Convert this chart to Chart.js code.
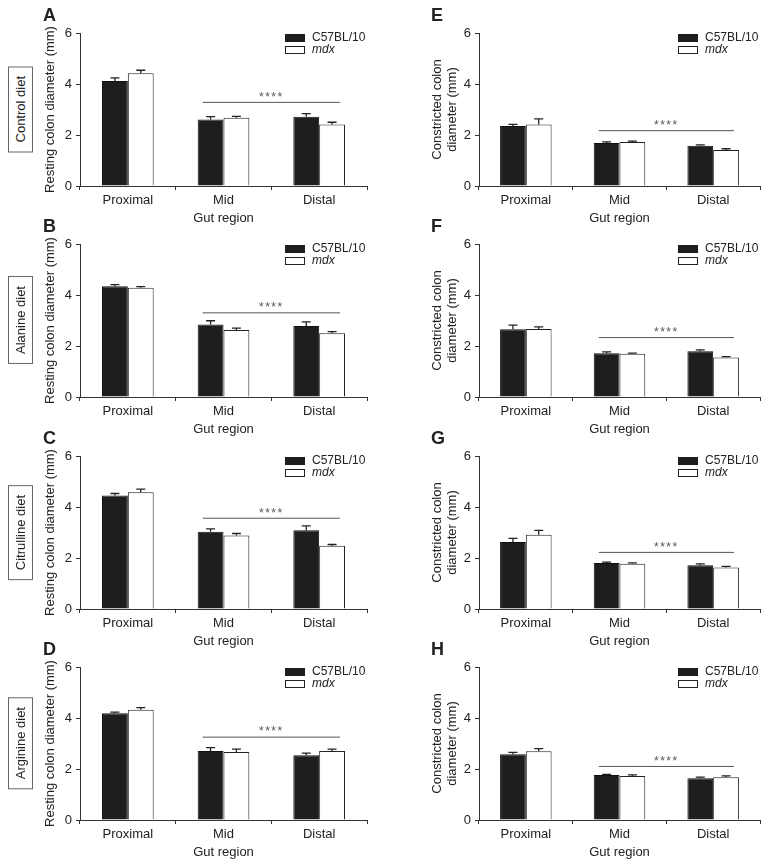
<!DOCTYPE html>
<html>
<head>
<meta charset="utf-8">
<script src="https://cdn.jsdelivr.net/npm/chart.js@4.4.1/dist/chart.umd.min.js"></script>
<style>
  body { margin: 0; background: #fff; }
  #wrap { position: relative; width: 771px; height: 866px; font-family: 'Liberation Sans', Arial, sans-serif; color: #222; }
  canvas { position: absolute; }
  .letter { position: absolute; font-weight: bold; font-size: 18px; line-height: 20px; }
  .diet { position: absolute; left: 8px; width: 23px; border: 1px solid #666; font-size: 13px;
          writing-mode: vertical-rl; transform: rotate(180deg); display: flex; align-items: center;
          justify-content: center; padding: 9px 0; box-sizing: content-box; }
</style>
</head>
<body>
<div id="wrap"></div>
<script>
const regions = ["Proximal", "Mid", "Distal"];
const diets = ["Control diet", "Alanine diet", "Citrulline diet", "Arginine diet"];
const strains = ["C57BL/10", "mdx"];
const lettersLeft = ["A", "B", "C", "D"];
const lettersRight = ["E", "F", "G", "H"];

// resting colon diameter (mm), one row per diet: Proximal, Mid, Distal
const restingC57 = [[4.12, 2.61, 2.72], [4.34, 2.84, 2.78], [4.45, 3.03, 3.09], [4.19, 2.71, 2.54]];
const restingMdx = [[4.42, 2.68, 2.41], [4.28, 2.63, 2.50], [4.58, 2.88, 2.48], [4.32, 2.67, 2.71]];
const restingC57Err = [[0.12, 0.11, 0.12], [0.07, 0.15, 0.17], [0.08, 0.11, 0.17], [0.04, 0.13, 0.08]];
const restingMdxErr = [[0.12, 0.05, 0.09], [0.05, 0.07, 0.06], [0.12, 0.08, 0.05], [0.09, 0.11, 0.07]];
const restingSig = [3.28, 3.30, 3.56, 3.25];

// constricted colon diameter (mm)
const constrC57 = [[2.35, 1.69, 1.58], [2.66, 1.72, 1.79], [2.63, 1.80, 1.72], [2.58, 1.76, 1.64]];
const constrMdx = [[2.41, 1.73, 1.41], [2.67, 1.70, 1.55], [2.91, 1.77, 1.63], [2.70, 1.73, 1.68]];
const constrC57Err = [[0.07, 0.04, 0.03], [0.16, 0.05, 0.06], [0.14, 0.04, 0.05], [0.07, 0.03, 0.04]];
const constrMdxErr = [[0.22, 0.03, 0.05], [0.08, 0.02, 0.03], [0.17, 0.04, 0.04], [0.10, 0.04, 0.05]];
const constrSig = [2.17, 2.33, 2.22, 2.10];

const rowTops = [0, 211, 423, 634];
const FONT = "'Liberation Sans', Arial, sans-serif";
Chart.defaults.font.family = FONT;
Chart.defaults.color = "#222";

const errorBars = {
  id: "errorBars",
  afterDatasetsDraw(chart) {
    const ctx = chart.ctx, y = chart.scales.y;
    chart.data.datasets.forEach((ds, i) => {
      chart.getDatasetMeta(i).data.forEach((bar, j) => {
        const top = y.getPixelForValue(ds.data[j] + ds.errors[j]);
        ctx.save();
        ctx.strokeStyle = "#222";
        ctx.lineWidth = 1.3;
        ctx.beginPath();
        ctx.moveTo(bar.x, bar.y);
        ctx.lineTo(bar.x, top);
        ctx.moveTo(bar.x - 4.5, top);
        ctx.lineTo(bar.x + 4.5, top);
        ctx.stroke();
        ctx.restore();
      });
    });
  }
};

const sigLine = {
  id: "sigLine",
  afterDatasetsDraw(chart, args, opts) {
    const ctx = chart.ctx, y = chart.scales.y;
    const b0 = chart.getDatasetMeta(0).data[1];
    const b1 = chart.getDatasetMeta(1).data[2];
    const x0 = b0.x - b0.width / 2 + 5, x1 = b1.x + b1.width / 2 - 5;
    const py = y.getPixelForValue(opts.value);
    ctx.save();
    ctx.strokeStyle = "#555";
    ctx.lineWidth = 1;
    ctx.beginPath();
    ctx.moveTo(x0, py);
    ctx.lineTo(x1, py);
    ctx.stroke();
    ctx.fillStyle = "#555";
    ctx.font = "12px " + FONT;
    ctx.letterSpacing = "1.5px";
    ctx.textAlign = "center";
    ctx.textBaseline = "middle";
    ctx.fillText("****", (x0 + x1) / 2, py - 5);
    ctx.restore();
  }
};

const boxLegend = {
  id: "boxLegend",
  afterDraw(chart) {
    const ctx = chart.ctx, a = chart.chartArea;
    const bx = a.right - 82, tx = a.right - 55;
    ctx.save();
    ctx.lineWidth = 1;
    ctx.fillStyle = "#1e1e1e";
    ctx.fillRect(bx, a.top + 1, 20, 8);
    ctx.fillStyle = "#fff";
    ctx.strokeStyle = "#222";
    ctx.fillRect(bx, a.top + 13, 20, 8);
    ctx.strokeRect(bx + 0.5, a.top + 13.5, 19, 7);
    ctx.fillStyle = "#222";
    ctx.textBaseline = "middle";
    ctx.font = "12px " + FONT;
    ctx.fillText(strains[0], tx, a.top + 5);
    ctx.font = "italic 12px " + FONT;
    ctx.fillText(strains[1], tx, a.top + 17);
    ctx.restore();
  }
};

function makePanel(row, left, width, yWidth, yTitle, titlePad, c57, mdx, c57Err, mdxErr, sig, catPct) {
  const wrap = document.getElementById("wrap");
  const cv = document.createElement("canvas");
  cv.width = width;
  cv.height = 230;
  cv.style.left = left + "px";
  cv.style.top = rowTops[row] + "px";
  wrap.appendChild(cv);
  new Chart(cv, {
    type: "bar",
    data: {
      labels: regions,
      datasets: [
        { label: strains[0], data: c57, errors: c57Err, backgroundColor: "#1e1e1e", borderColor: "#111", borderWidth: 1 },
        { label: strains[1], data: mdx, errors: mdxErr, backgroundColor: "#fff", borderColor: "#222", borderWidth: 1 }
      ]
    },
    options: {
      responsive: false,
      animation: false,
      layout: { padding: { top: 33, right: width - yWidth - (left < 400 ? 287 : 281), bottom: 0, left: 0 } },
      datasets: { bar: { categoryPercentage: catPct, barPercentage: 1 } },
      plugins: { legend: { display: false }, tooltip: { enabled: false }, sigLine: { value: sig } },
      scales: {
        x: {
          grid: { drawOnChartArea: false, tickLength: 4, color: "#333" },
          border: { color: "#333", width: 1 },
          ticks: { font: { size: 13 }, padding: 3, color: "#222" },
          title: { display: true, text: "Gut region", font: { size: 13, lineHeight: 1.15 }, padding: { top: 0, bottom: 4 }, color: "#222" },
          afterFit(s) { s.height = 44; }
        },
        y: {
          min: 0, max: 6,
          grid: { drawOnChartArea: false, tickLength: 4, color: "#333" },
          border: { color: "#333", width: 1 },
          ticks: { stepSize: 2, font: { size: 13 }, padding: 4, color: "#222" },
          title: { display: true, text: yTitle, font: { size: 13, lineHeight: 1.15 }, padding: { top: titlePad, bottom: 0 }, color: "#222" },
          afterFit(s) { s.width = yWidth; }
        }
      }
    },
    plugins: [errorBars, sigLine, boxLegend]
  });
}

const wrap = document.getElementById("wrap");
for (let r = 0; r < 4; r++) {
  makePanel(r, 36, 344, 44, "Resting colon diameter (mm)", 6.5,
    restingC57[r], restingMdx[r], restingC57Err[r], restingMdxErr[r], restingSig[r], 0.54);
  makePanel(r, 415, 356, 64, ["Constricted colon", "diameter (mm)"], 14.5,
    constrC57[r], constrMdx[r], constrC57Err[r], constrMdxErr[r], constrSig[r], 0.55);

  const la = document.createElement("div");
  la.className = "letter";
  la.textContent = lettersLeft[r];
  la.style.left = "43px";
  la.style.top = (rowTops[r] + 5) + "px";
  wrap.appendChild(la);
  const lb = document.createElement("div");
  lb.className = "letter";
  lb.textContent = lettersRight[r];
  lb.style.left = "431px";
  lb.style.top = (rowTops[r] + 5) + "px";
  wrap.appendChild(lb);

  const d = document.createElement("div");
  d.className = "diet";
  d.textContent = diets[r];
  wrap.appendChild(d);
  d.style.top = (rowTops[r] + 109 - d.offsetHeight / 2) + "px";
}
</script>
</body>
</html>
